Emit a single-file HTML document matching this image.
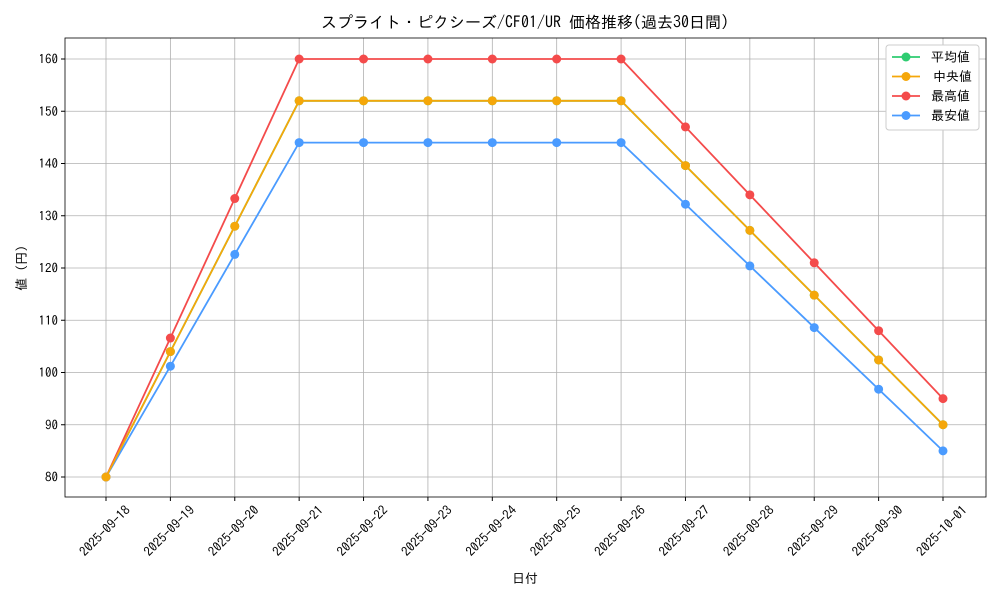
<!DOCTYPE html>
<html><head><meta charset="utf-8"><style>
body{margin:0;background:#fff;}
svg text{font-family:"IPAGothic","Liberation Sans","Noto Sans CJK JP",sans-serif;fill:#000;}
</style></head><body>
<svg id="s" width="1000" height="600" xmlns="http://www.w3.org/2000/svg"></svg>
<script>
const s=document.getElementById('s');
let h='';
const X0=106,DX=(943-106)/13,x=i=>X0+i*DX,y=v=>477-(v-80)*5.225;
const L=65,R=986,T=38,B=497;
for(let i=0;i<14;i++)h+=`<line x1="${x(i)}" y1="${T}" x2="${x(i)}" y2="${B}" stroke="#b0b0b0" stroke-width="0.8"/>`;
for(let v=80;v<=160;v+=10)h+=`<line x1="${L}" y1="${y(v)}" x2="${R}" y2="${y(v)}" stroke="#b0b0b0" stroke-width="0.8"/>`;
h+=`<rect x="${L}" y="${T}" width="${R-L}" height="${B-T}" fill="none" stroke="#000" stroke-width="0.8"/>`;
for(let v=80;v<=160;v+=10)h+=`<line x1="${L-4}" y1="${y(v)}" x2="${L}" y2="${y(v)}" stroke="#000"/><text x="${L-7}" y="${y(v)+4.5}" font-size="13" text-anchor="end">${v}</text>`;
const d=['2025-09-18','2025-09-19','2025-09-20','2025-09-21','2025-09-22','2025-09-23','2025-09-24','2025-09-25','2025-09-26','2025-09-27','2025-09-28','2025-09-29','2025-09-30','2025-10-01'];
d.forEach((t,i)=>{h+=`<line x1="${x(i)}" y1="${B}" x2="${x(i)}" y2="${B+4}" stroke="#000"/><text transform="translate(${x(i)+2},${B+37}) rotate(-45)" font-size="13" text-anchor="middle">${t}</text>`;});
const mid=[80,104,128,152,152,152,152,152,152,139.6,127.2,114.8,102.4,90];
const ser=[
['#2ecc71',mid],
['#f5a70a',mid],
['#f44b4b',[80,106.6,133.3,160,160,160,160,160,160,147,134,121,108,95]],
['#4a9bff',[80,101.2,122.6,144,144,144,144,144,144,132.2,120.4,108.6,96.8,85]]];
const order=[0,2,3,1];
order.forEach(k=>{const [c,v]=ser[k];h+=`<polyline fill="none" stroke="${c}" stroke-width="1.8" points="${v.map((a,i)=>x(i)+','+y(a)).join(' ')}"/>`;v.forEach((a,i)=>h+=`<circle cx="${x(i)}" cy="${y(a)}" r="4.5" fill="${c}"/>`);});
h+=`<text x="525" y="28" font-size="16" text-anchor="middle">スプライト・ピクシーズ/CF01/UR 価格推移(過去30日間)</text>`;
h+=`<text x="525" y="583" font-size="13" text-anchor="middle">日付</text>`;
h+=`<text transform="translate(26,268) rotate(-90)" font-size="13" text-anchor="middle">値 (円)</text>`;
h+=`<rect x="886" y="45" width="93" height="85" rx="3" fill="#fff" stroke="#ccc"/>`;
['平均値','中央値','最高値','最安値'].forEach((t,i)=>{const c=ser[i][0],yy=57+i*19.5;h+=`<line x1="892" y1="${yy}" x2="920" y2="${yy}" stroke="${c}" stroke-width="1.8"/><circle cx="906" cy="${yy}" r="4.5" fill="${c}"/><text x="${i==1?933:931}" y="${yy+4.5}" font-size="13">${t}</text>`;});
s.innerHTML=h;
</script>
</body></html>
